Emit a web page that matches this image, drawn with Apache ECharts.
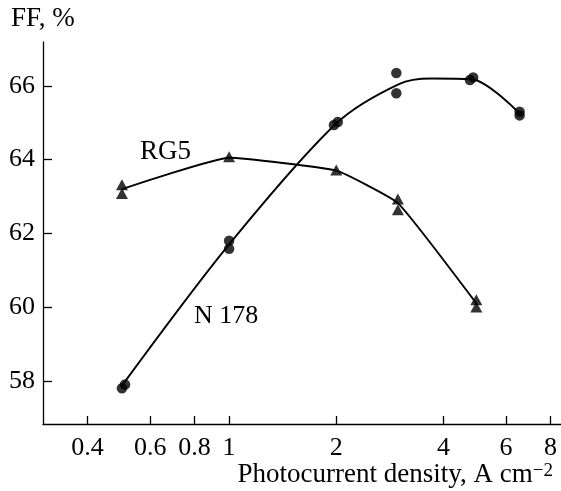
<!DOCTYPE html>
<html><head><meta charset="utf-8">
<script src="https://cdn.jsdelivr.net/npm/echarts@6/dist/echarts.min.js"></script>
<style>html,body{margin:0;padding:0;background:#fff}#c{width:561px;height:491px}</style>
</head><body><div id="c"></div>
<script>
const xTicks = [0.4, 0.6, 0.8, 1, 2, 4, 6, 8];
const yTicks = [58, 60, 62, 64, 66];
const n178Points = [[0.5,57.8],[0.51,57.9],[1,61.58],[1,61.8],[1.97,64.94],[2.02,65.02],[2.95,66.35],[2.95,65.8],[4.75,66.16],[4.85,66.23],[6.55,65.3],[6.55,65.2]];
const rg5Points = [[0.5,63.32],[0.5,63.08],[1,64.08],[2,63.72],[2.98,62.93],[2.98,62.64],[4.95,60.2],[4.95,60.0]];
const n178Curve = [[0.5,57.87],[1,61.7],[2,64.98],[3,66.05],[3.7,66.2],[4.8,66.18],[6.55,65.25]];
const rg5Curve = [[0.5,63.2],[1,64.05],[2,63.7],[2.98,62.82],[4.95,60.1]];

const FONT = 'Liberation Serif';
const chart = echarts.init(document.getElementById('c'));
chart.setOption({
  animation: false,
  backgroundColor: '#fff',
  grid: { left: 43, top: 42, right: 0, bottom: 67 },
  xAxis: {
    type: 'log', min: 0.3, max: 8.56,
    axisLine: { lineStyle: { color: '#000', width: 1.3 } },
    axisTick: { inside: true, length: 8, lineStyle: { color: '#000', width: 1.3 }, customValues: xTicks },
    axisLabel: { color: '#000', fontFamily: FONT, fontSize: 26, margin: 11, customValues: xTicks,
      formatter: v => String(v) },
    splitLine: { show: false }, minorTick: { show: false }
  },
  yAxis: {
    type: 'value', min: 56.83, max: 67.19,
    axisLine: { show: true, lineStyle: { color: '#000', width: 1.3 } },
    axisTick: { show: true, inside: true, length: 9, lineStyle: { color: '#000', width: 1.3 }, customValues: yTicks },
    axisLabel: { color: '#000', fontFamily: FONT, fontSize: 26, margin: 8, customValues: yTicks },
    splitLine: { show: false }
  },
  graphic: [
    { type: 'text', x: 11, y: 19, style: { text: 'FF, %', font: '27px "Liberation Serif"', fill: '#000', verticalAlign: 'middle' } },
    { type: 'text', x: 140, y: 152, style: { text: 'RG5', font: '27px "Liberation Serif"', fill: '#000', verticalAlign: 'middle' } },
    { type: 'text', x: 194, y: 316, style: { text: 'N 178', font: '26px "Liberation Serif"', fill: '#000', verticalAlign: 'middle' } },
    { type: 'text', x: 553, y: 475, style: { text: 'Photocurrent density, A cm{sup|−2}', font: '27px "Liberation Serif"', fill: '#000',
        align: 'right', verticalAlign: 'middle',
        rich: { sup: { fontSize: 19, fontFamily: FONT, verticalAlign: 'top' } } } }
  ],
  series: [
    { type: 'line', data: n178Curve, smooth: 0.3, showSymbol: false, symbol: 'none',
      lineStyle: { color: '#000', width: 1.9 }, z: 2 },
    { type: 'line', data: rg5Curve, smooth: 0.12, showSymbol: false, symbol: 'none',
      lineStyle: { color: '#000', width: 1.9 }, z: 2 },
    { type: 'scatter', data: n178Points, symbol: 'circle', symbolSize: 10.5,
      itemStyle: { color: '#000' }, z: 3 },
    { type: 'scatter', data: rg5Points, symbol: 'triangle', symbolSize: [12, 11],
      itemStyle: { color: '#000' }, z: 3 }
  ]
});
</script></body></html>
